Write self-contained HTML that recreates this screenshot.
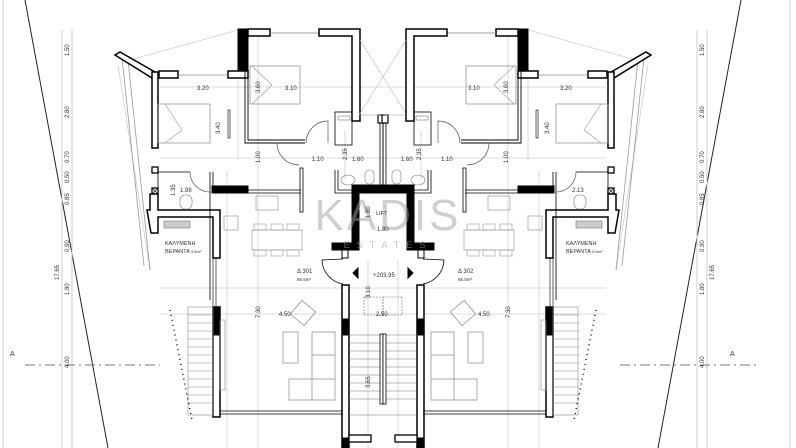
<!DOCTYPE html>
<html><head><meta charset="utf-8"><style>
html,body{margin:0;padding:0;background:#fff;}
svg{display:block;}
text{font-family:"Liberation Sans","DejaVu Sans",sans-serif;fill:#333;}
</style></head><body>
<svg width="796" height="448" viewBox="0 0 796 448" xmlns="http://www.w3.org/2000/svg">
<defs>
<g id="half" fill="none" stroke="#000">
  <g stroke="#cfcfcf" stroke-width="0.8">
    <line x1="160" y1="87" x2="383" y2="87"/>
    <line x1="160" y1="158" x2="383" y2="158"/>
    <line x1="160" y1="288" x2="383" y2="288"/>
    <line x1="160" y1="314" x2="383" y2="314"/>
    <line x1="258" y1="30" x2="258" y2="448"/>
    <line x1="238" y1="40" x2="238" y2="160"/>
    <line x1="227" y1="170" x2="227" y2="448"/>
    <line x1="345" y1="130" x2="345" y2="180"/>
    <line x1="368" y1="260" x2="368" y2="448"/>
    <line x1="130" y1="60" x2="238" y2="30"/>
    <line x1="118" y1="65" x2="150" y2="270"/>
  </g>
  <path d="M122 58 L144 266" stroke="#999" stroke-width="0.8"/>
  <path d="M128 60 L150 270" stroke="#999" stroke-width="0.8"/>
  <rect x="238" y="29" width="10" height="42" fill="#000"/>
  <rect x="248" y="29" width="22" height="7" fill="#fff" stroke-width="1.5"/>
  <path d="M270 33 L319 33" stroke="#888" stroke-width="0.8"/>
  <path d="M319 29 L360 29 L360 121 L352 121 L352 36 L319 36 Z" fill="#fff" stroke-width="1.5"/>
  <rect x="228" y="71" width="20" height="7" fill="#fff" stroke-width="1.5"/>
  <rect x="159" y="71" width="19" height="7" fill="#fff" stroke-width="1.5"/>
  <path d="M178 75 L228 75" stroke="#888" stroke-width="0.8"/>
  <path d="M115 55 L120 52 L155 72 L152 78 Z" fill="#fff" stroke-width="1.5"/>
  <rect x="152" y="72" width="6" height="76" fill="#fff" stroke-width="1.5"/>
  <path d="M245 71 L245 143 L305 143 M248 71 L248 140 L305 140" stroke-width="0.9"/>
  <rect x="228" y="110" width="2" height="28" stroke-width="0.6"/>
  <rect x="158" y="104" width="52" height="39" stroke="#888" stroke-width="0.7"/>
  <path d="M165 104 L182 130 L165 143" stroke="#999" stroke-width="0.6"/>
  <rect x="250" y="66" width="50" height="38" stroke="#888" stroke-width="0.7"/>
  <path d="M252 66 L272 85 L252 104" stroke="#999" stroke-width="0.6"/>
  <path d="M306 143 A22 22 0 0 1 328 121 L328 143" stroke="#555" stroke-width="0.7"/>
  <path d="M277 143 A22 22 0 0 0 299 165" stroke="#555" stroke-width="0.7"/>
  <path d="M190 172 A20 20 0 0 0 210 192" stroke="#555" stroke-width="0.7"/>
  <rect x="335" y="112" width="17" height="33" stroke-width="0.8"/>
  <rect x="338" y="116" width="12" height="4" stroke="#777" stroke-width="0.6"/>
  <path d="M335 170 L335 193 L378 193 M338 170 L338 190 L378 190" stroke-width="0.8"/>
  <ellipse cx="348" cy="180" rx="7" ry="5" stroke="#777" stroke-width="0.6"/>
  <rect x="365" y="170" width="9" height="14" rx="4" stroke="#777" stroke-width="0.6"/>
  <rect x="378" y="115" width="6" height="8" fill="#fff" stroke-width="1.2"/>
  <path d="M380 123 L380 185 M383 123 L383 185" stroke-width="0.8"/>
  <path d="M360 40 L407 115" stroke="#bbb" stroke-width="0.6"/>
  <line x1="360" y1="115" x2="383" y2="115" stroke="#999" stroke-width="0.6"/>
  <rect x="152" y="167" width="6" height="6" fill="#fff" stroke-width="1.3"/>
  <rect x="152" y="188" width="6" height="6" fill="#fff" stroke-width="1.3"/>
  <path d="M152 188 L158 194 M158 188 L152 194" stroke-width="0.6"/>
  <path d="M150 194 L158 194 L158 210 L220 210 L220 258 L213 258 L213 217 L158 217 L158 233 L151 233 L147 210 L150 210 Z" fill="#fff" stroke-width="1.5"/>
  <rect x="164" y="221" width="26" height="7" fill="#ccc" stroke="#777" stroke-width="0.6"/>
  <path d="M158 173 L158 188 M158 172 L190 172" stroke-width="0.8"/>
  <rect x="180" y="195" width="12" height="14" rx="5" stroke="#777" stroke-width="0.6"/>
  <rect x="212" y="186" width="36" height="7" fill="#000"/>
  <path d="M210 172 L210 300 M213 172 L213 186 M248 193 L301 193 M248 190 L301 190" stroke-width="0.8"/>
  <rect x="300" y="168" width="3" height="44" stroke-width="0.8"/>
  <rect x="224" y="216" width="14" height="14" stroke="#888" stroke-width="0.6"/>
  <rect x="256" y="196" width="22" height="14" stroke="#888" stroke-width="0.6"/>
  <rect x="252" y="230" width="50" height="20" stroke="#999" stroke-width="0.7"/>
  <g stroke="#999" stroke-width="0.6">
   <rect x="254" y="224" width="12" height="6"/><rect x="271" y="224" width="12" height="6"/><rect x="287" y="224" width="12" height="6"/>
   <rect x="254" y="250" width="12" height="6"/><rect x="271" y="250" width="12" height="6"/><rect x="287" y="250" width="12" height="6"/>
  </g>
  <path d="M332 243 L352 243 L352 185 L383 185 L383 193 L359 193 L359 250 L332 250 Z" fill="#000"/>
  <rect x="342" y="250" width="6" height="8" fill="#fff" stroke-width="1"/>
  <path d="M343 259 L322 260 A25 25 0 0 0 343 284" stroke-width="0.8"/>
  <path d="M358 268 L353 273 L358 278 Z" fill="#000"/>
  <rect x="342" y="285" width="7" height="170" fill="#fff" stroke-width="1.5"/>
  <rect x="342" y="319" width="7" height="16" fill="#000"/>
  <rect x="342" y="438" width="7" height="12" fill="#000"/>
  <rect x="349" y="435" width="22" height="7" fill="#fff" stroke-width="1.3"/>
  <g stroke="#777" stroke-width="0.6">
   <line x1="349" y1="335" x2="383" y2="335"/><line x1="349" y1="343" x2="383" y2="343"/><line x1="349" y1="351" x2="383" y2="351"/>
   <line x1="349" y1="359" x2="383" y2="359"/><line x1="349" y1="367" x2="383" y2="367"/><line x1="349" y1="375" x2="383" y2="375"/>
   <line x1="349" y1="383" x2="383" y2="383"/><line x1="349" y1="391" x2="383" y2="391"/><line x1="349" y1="399" x2="383" y2="399"/>
   <line x1="349" y1="415" x2="383" y2="415"/>
  </g>
  <rect x="380" y="334" width="3" height="70" fill="#fff" stroke-width="0.8"/>
  <rect x="364" y="297" width="19" height="18" stroke="#777" stroke-width="0.6" stroke-dasharray="2 1"/>
  <rect x="213" y="258" width="3" height="50" stroke-width="0.6"/>
  <rect x="213" y="307" width="7" height="110" fill="#fff" stroke-width="1.5"/>
  <rect x="213" y="307" width="7" height="28" fill="#000"/>
  <rect x="220" y="320" width="5" height="70" stroke="#888" stroke-width="0.6"/>
  <path d="M220 411 L343 411 M220 414 L343 414" stroke-width="0.7"/>
  <g stroke="#888" stroke-width="0.6">
   <rect x="188" y="307" width="25" height="108"/>
   <line x1="188" y1="315" x2="213" y2="315"/><line x1="188" y1="323" x2="213" y2="323"/><line x1="188" y1="331" x2="213" y2="331"/>
   <line x1="188" y1="339" x2="213" y2="339"/><line x1="188" y1="347" x2="213" y2="347"/><line x1="188" y1="355" x2="213" y2="355"/>
   <line x1="188" y1="363" x2="213" y2="363"/><line x1="188" y1="371" x2="213" y2="371"/><line x1="188" y1="379" x2="213" y2="379"/>
   <line x1="188" y1="387" x2="213" y2="387"/><line x1="188" y1="395" x2="213" y2="395"/><line x1="188" y1="403" x2="213" y2="403"/>
  </g>
  <path d="M170 310 L192 420" stroke="#000" stroke-width="1.4" stroke-dasharray="1 4"/>
  <g stroke="#888" stroke-width="0.7">
   <rect x="283" y="332" width="15" height="31"/>
   <path d="M312 332 L335 332 L335 400 L289 400 L289 379 L312 379 Z"/>
   <line x1="312" y1="355" x2="335" y2="355"/><line x1="312" y1="379" x2="335" y2="379"/><line x1="312" y1="379" x2="312" y2="400"/>
   <rect x="294" y="304" width="18" height="18" transform="rotate(40 303 313)"/>
  </g>
</g>
</defs>

<line x1="3" y1="0" x2="3" y2="448" stroke="#ccc" stroke-width="1"/>
<line x1="790" y1="0" x2="790" y2="448" stroke="#ccc" stroke-width="1"/>
<line x1="25" y1="0" x2="108" y2="448" stroke="#222" stroke-width="1"/>
<line x1="741" y1="0" x2="658" y2="448" stroke="#222" stroke-width="1"/>
<g stroke="#ccc" stroke-width="1">
 <line x1="62" y1="30" x2="62" y2="448"/><line x1="72" y1="30" x2="72" y2="448"/>
 <line x1="697" y1="30" x2="697" y2="448"/><line x1="707" y1="30" x2="707" y2="448"/>
</g>
<line x1="25" y1="365" x2="160" y2="365" stroke="#777" stroke-width="1" stroke-dasharray="10 4 2 4"/>
<line x1="620" y1="365" x2="760" y2="365" stroke="#777" stroke-width="1" stroke-dasharray="10 4 2 4"/>

<use href="#half"/>
<use href="#half" transform="translate(766,0) scale(-1,1)"/>

<text x="388" y="230" text-anchor="middle" font-size="44" style="fill:#a0a0a0;fill-opacity:0.5;letter-spacing:3px">KADIS</text>
<text x="388" y="248" text-anchor="middle" font-size="9" style="fill:#a0a0a0;fill-opacity:0.6;letter-spacing:7px">ESTATES</text>

<g font-size="6">
<text x="197" y="90">3.20</text><text x="285" y="90">3.10</text>
<text x="468" y="90">3.10</text><text x="560" y="90">3.20</text>
<text x="312" y="161">1.10</text><text x="352" y="161">1.60</text>
<text x="401" y="161">1.60</text><text x="441" y="161">1.10</text>
<text x="180" y="192">1.98</text><text x="572" y="192">2.13</text>
<text x="376" y="215" font-size="5.5">LIFT</text><text x="377" y="231">1.80</text>
<text x="279" y="316">4.50</text><text x="376" y="316">2.50</text><text x="478" y="316">4.50</text>
<text x="297" y="273">Δ 301</text><text x="297" y="281" font-size="4.5">86.5m²</text>
<text x="458" y="273">Δ 302</text><text x="458" y="281" font-size="4.5">86.5m²</text>
<text x="373" y="277" font-size="6">+203.95</text>
<text x="165" y="245" font-size="5.5">ΚΑΛΥΜΕΝΗ</text><text x="165" y="253" font-size="5.5">ΒΕΡΑΝΤΑ <tspan font-size="4">5.5m²</tspan></text>
<text x="566" y="245" font-size="5.5">ΚΑΛΥΜΕΝΗ</text><text x="566" y="253" font-size="5.5">ΒΕΡΑΝΤΑ <tspan font-size="4">5.5m²</tspan></text>
<text x="10" y="356" font-size="7">A</text><text x="730" y="356" font-size="7">A</text>
</g>
<g font-size="6">
<text transform="translate(260,93) rotate(-90)">3.60</text>
<text transform="translate(508,93) rotate(-90)">3.60</text>
<text transform="translate(220,134) rotate(-90)">3.40</text>
<text transform="translate(549,134) rotate(-90)">3.40</text>
<text transform="translate(260,163) rotate(-90)">1.00</text>
<text transform="translate(508,163) rotate(-90)">1.00</text>
<text transform="translate(347,160) rotate(-90)">2.35</text>
<text transform="translate(421,160) rotate(-90)">2.35</text>
<text transform="translate(175,196) rotate(-90)">1.35</text>
<text transform="translate(370,218) rotate(-90)">1.80</text>
<text transform="translate(370,298) rotate(-90)">3.10</text>
<text transform="translate(260,318) rotate(-90)">7.30</text>
<text transform="translate(510,318) rotate(-90)">7.30</text>
<text transform="translate(370,388) rotate(-90)">3.65</text>
<text transform="translate(69,56) rotate(-90)">1.50</text>
<text transform="translate(69,118) rotate(-90)">2.80</text>
<text transform="translate(69,163) rotate(-90)">0.70</text>
<text transform="translate(69,183) rotate(-90)">0.50</text>
<text transform="translate(69,205) rotate(-90)">0.85</text>
<text transform="translate(69,252) rotate(-90)">0.90</text>
<text transform="translate(69,295) rotate(-90)">1.80</text>
<text transform="translate(69,368) rotate(-90)">4.00</text>
<text transform="translate(59,280) rotate(-90)">17.65</text>
<text transform="translate(704,56) rotate(-90)">1.50</text>
<text transform="translate(704,118) rotate(-90)">2.80</text>
<text transform="translate(704,163) rotate(-90)">0.70</text>
<text transform="translate(704,183) rotate(-90)">0.50</text>
<text transform="translate(704,205) rotate(-90)">0.85</text>
<text transform="translate(704,252) rotate(-90)">0.90</text>
<text transform="translate(704,295) rotate(-90)">1.80</text>
<text transform="translate(704,368) rotate(-90)">4.00</text>
<text transform="translate(714,280) rotate(-90)">17.65</text>
</g>
</svg>
</body></html>
